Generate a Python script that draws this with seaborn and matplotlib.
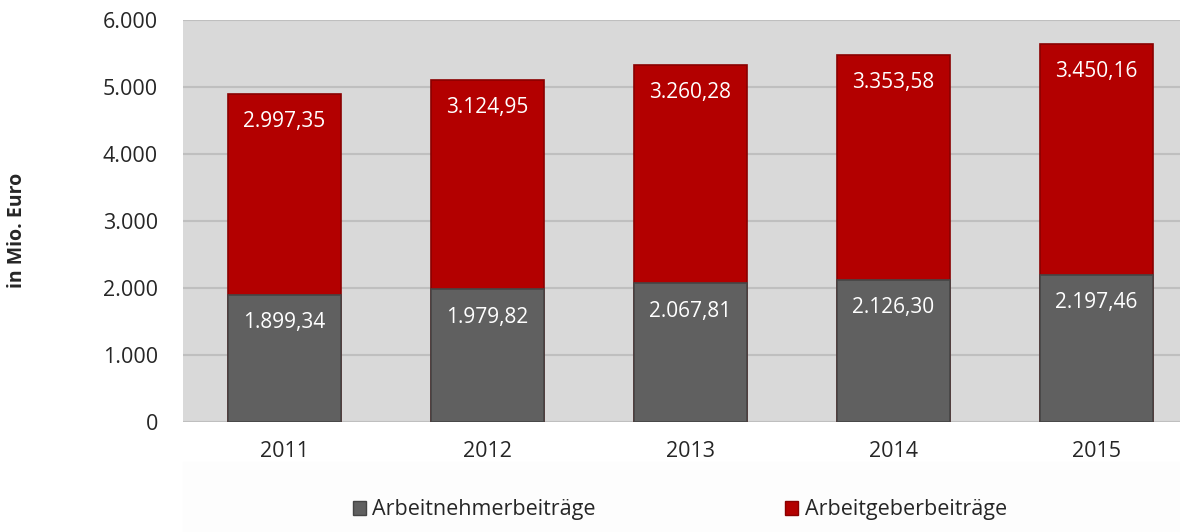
import pandas as pd
import numpy as np
import matplotlib.pyplot as plt
import matplotlib.patches as mpatches
import seaborn as sns

years = ['2011', '2012', '2013', '2014', '2015']
arbeitnehmer = [1899.34, 1979.82, 2067.81, 2126.30, 2197.46]
arbeitgeber = [2997.35, 3124.95, 3260.28, 3353.58, 3450.16]

grey = '#606060'
red = '#b30000'

df = pd.DataFrame({'year': years, 'an': arbeitnehmer, 'ag': arbeitgeber})
df['total'] = df['an'] + df['ag']


def fmt(v):
    # german number format 1.234,56
    s = f'{v:,.2f}'
    return s.replace(',', 'X').replace('.', ',').replace('X', '.')


sns.set_style('white')
plt.rcParams['font.family'] = ['Open Sans', 'DejaVu Sans']

fig = plt.figure(figsize=(11.8, 5.32), dpi=100)
ax = fig.add_axes([183 / 1180, 1 - 422 / 532, 1015 / 1180, 402 / 532])

# faint legend band
fig.patches.append(mpatches.Rectangle((183 / 1180, 0), 1 - 183 / 1180, 70 / 532,
                                      transform=fig.transFigure, color='#fdfdfd', zorder=0))

sns.barplot(df, x='year', y='total', color=red, saturation=1, width=0.56,
            edgecolor='#8a0000', linewidth=1.2, ax=ax, zorder=3)
sns.barplot(df, x='year', y='an', color=grey, saturation=1, width=0.56,
            edgecolor='#454545', linewidth=1.2, ax=ax, zorder=3)

for i, row in df.iterrows():
    ax.annotate(fmt(row['ag']), (i, row['total']), xytext=(0, -20), textcoords='offset points',
                ha='center', va='center', color='white', fontsize=15, zorder=5)
    ax.annotate(fmt(row['an']), (i, row['an']), xytext=(0, -20), textcoords='offset points',
                ha='center', va='center', color='white', fontsize=15, zorder=5)

ax.set_facecolor('#d9d9d9')
ax.set_xlim(-0.5, 4.5)
ax.set_ylim(0, 6000)
ax.set_yticks(range(0, 6001, 1000))
ax.set_yticklabels([fmt(v).split(',')[0] for v in range(0, 6001, 1000)])
ax.yaxis.grid(True, color='#bfbfbf', linewidth=1.5, zorder=0)
ax.set_axisbelow(True)
for s in ax.spines.values():
    s.set_visible(False)
ax.tick_params(axis='both', length=0, labelsize=15.5, pad=18)
ax.tick_params(axis='x', pad=14)
ax.set_xlabel('')
ax.set_ylabel('')
fig.text(17 / 1180, 1 - 230 / 532, 'in Mio. Euro', rotation=90, ha='center', va='center',
         fontsize=14, fontweight='bold')

handles = [mpatches.Patch(facecolor=grey, edgecolor='#454545', label='Arbeitnehmerbeiträge'),
           mpatches.Patch(facecolor=red, edgecolor='#8a0000', label='Arbeitgeberbeiträge')]
fig.legend(handles=handles, loc='center', bbox_to_anchor=(680 / 1180, 1 - 510 / 532), ncol=2,
           frameon=False, fontsize=15.5, handlelength=0.6, handleheight=0.6, handletextpad=0.3,
           columnspacing=8.8)

fig.savefig('out.png', dpi=100)
